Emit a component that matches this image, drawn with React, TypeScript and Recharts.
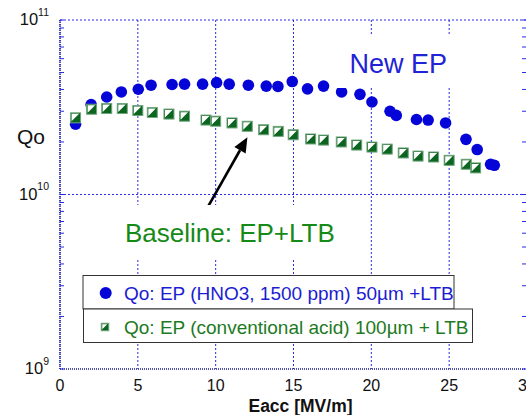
import { ScatterChart, Scatter, XAxis, YAxis, CartesianGrid, ReferenceLine } from 'recharts';

const FONT = '"Liberation Sans", Arial, Helvetica, sans-serif';
const BLUE = '#0505d8';
const GREEN_DARK = '#0b6420';
const GREEN_EDGE = '#6fa57b';
const AXIS_BLUE = '#1b1b8e';
const GRID_BLUE = '#2a2ae6';

// New EP (HNO3 added) run: Eacc [MV/m] and Qo
const newEpEacc = [1.0, 2.0, 3.0, 3.94, 5.03, 5.85, 7.2, 8.0, 9.16, 10.06, 10.87, 12.1, 13.25, 14.0, 14.92, 15.9, 16.93, 18.09, 19.27, 20.04, 21.2, 21.6, 22.9, 23.65, 24.77, 26.08, 26.8, 27.66, 27.9];
const newEpQo = [2.53e10, 3.28e10, 3.62e10, 3.87e10, 4.01e10, 4.23e10, 4.27e10, 4.29e10, 4.29e10, 4.38e10, 4.29e10, 4.23e10, 4.18e10, 4.16e10, 4.44e10, 4.03e10, 4.18e10, 3.87e10, 3.75e10, 3.39e10, 3.0e10, 2.84e10, 2.69e10, 2.67e10, 2.57e10, 2.07e10, 1.81e10, 1.49e10, 1.47e10];

// Baseline run (conventional acid)
const baseEacc = [1.0, 2.03, 3.0, 4.0, 5.0, 5.93, 7.0, 8.0, 9.38, 10.0, 11.05, 12.03, 13.08, 14.02, 14.98, 16.1, 16.93, 18.07, 19.06, 20.04, 21.02, 22.05, 23.0, 24.0, 25.0, 26.1, 26.7];
const baseQo = [2.75e10, 3.08e10, 3.11e10, 3.11e10, 3.03e10, 2.95e10, 2.89e10, 2.81e10, 2.67e10, 2.63e10, 2.57e10, 2.46e10, 2.35e10, 2.3e10, 2.2e10, 2.08e10, 2.05e10, 2.0e10, 1.92e10, 1.87e10, 1.82e10, 1.73e10, 1.66e10, 1.64e10, 1.57e10, 1.49e10, 1.42e10];

const xTicks = [0, 5, 10, 15, 20, 25, 30];
const decadeTicks = [1e9, 1e10, 1e11];
const minorTicks = [2e9, 3e9, 4e9, 5e9, 6e9, 7e9, 8e9, 9e9, 2e10, 3e10, 4e10, 5e10, 6e10, 7e10, 8e10, 9e10];
const yTicks = [...decadeTicks, ...minorTicks].sort((a, b) => a - b);

const legendNewEp = 'Qo: EP (HNO3, 1500 ppm) 50\u00b5m +LTB';
const legendBase = 'Qo: EP (conventional acid) 100\u00b5m + LTB';

// arrow pointing from the baseline note to the square series
const arrowFrom = { x: 9.5, y: 8.5e9 };
const arrowTo = { x: 12.04, y: 2.13e10 };

const newEpData = newEpEacc.map((x, i) => ({ x, y: newEpQo[i] }));
const baseData = baseEacc.map((x, i) => ({ x, y: baseQo[i] }));

const exponentOf = (v: number) => Math.round(Math.log10(v));
const isDecade = (v: number) => decadeTicks.includes(v);

function Dot(props: any) {
  const { cx, cy } = props;
  return <circle cx={cx} cy={cy} r={5.8} fill={BLUE} />;
}

function HalfSquare({ cx, cy, s }: { cx: number; cy: number; s: number }) {
  const h = s / 2;
  return (
    <g>
      <rect x={cx - h} y={cy - h} width={s} height={s} fill={GREEN_DARK} stroke={GREEN_EDGE} strokeWidth={1} />
      <polygon
        points={`${cx - h + 1},${cy - h + 1} ${cx + h - 1.5},${cy - h + 1} ${cx - h + 1},${cy + h - 1.5}`}
        fill="#ffffff"
      />
    </g>
  );
}

function Square(props: any) {
  return <HalfSquare cx={props.cx} cy={props.cy} s={10} />;
}

function LeftTick(props: any) {
  const { x, y, payload } = props;
  const v = payload.value;
  return (
    <g>
      <line x1={x} x2={x + 4} y1={y} y2={y} stroke={GRID_BLUE} strokeWidth={1} />
      {isDecade(v) && (
        <text x={x - 11} y={y + 5} textAnchor="end" fontFamily={FONT} fill="#111">
          <tspan fontSize={16.5}>10</tspan>
          <tspan fontSize={10.5} dy={-9.5}>{exponentOf(v)}</tspan>
        </text>
      )}
    </g>
  );
}

function RightTick(props: any) {
  const { x, y } = props;
  return <line x1={x - 5} x2={x} y1={y} y2={y} stroke={GRID_BLUE} strokeWidth={1} />;
}

function BottomTick(props: any) {
  const { x, y, payload } = props;
  return (
    <text x={x} y={y + 22} textAnchor="middle" fontFamily={FONT} fontSize={16} fill="#111">
      {payload.value}
    </text>
  );
}

function Arrow(props: any) {
  const { x1, y1, x2, y2 } = props;
  const dx = x2 - x1;
  const dy = y2 - y1;
  const len = Math.hypot(dx, dy);
  const ux = dx / len;
  const uy = dy / len;
  const head = 15;
  const half = 6.5;
  const bx = x2 - ux * head;
  const by = y2 - uy * head;
  return (
    <g>
      <line x1={x1} y1={y1} x2={bx} y2={by} stroke="#000" strokeWidth={2.6} />
      <polygon
        points={`${x2},${y2} ${bx - uy * half},${by + ux * half} ${bx + uy * half},${by - ux * half}`}
        fill="#000"
      />
    </g>
  );
}

export default function App() {
  return (
    <div
      style={{
        position: 'absolute',
        left: 0,
        top: 0,
        width: 526,
        height: 415,
        overflow: 'hidden',
        background: '#fff',
        fontFamily: FONT,
      }}
    >
      <ScatterChart width={540} height={415} margin={{ top: 20, right: 0, bottom: 0, left: 0 }}>
        <CartesianGrid
          stroke={GRID_BLUE}
          strokeDasharray="2 2"
          horizontalValues={[1e10, 1e11]}
          verticalValues={xTicks}
        />
        <XAxis
          type="number"
          dataKey="x"
          domain={[0, 30]}
          ticks={xTicks}
          interval={0}
          height={46}
          tickSize={0}
          tickMargin={0}
          tick={BottomTick}
          axisLine={{ stroke: AXIS_BLUE, strokeWidth: 1.5, strokeDasharray: '1 1' }}
          label={{
            value: 'Eacc [MV/m]',
            position: 'insideBottom',
            offset: 3,
            dx: 7,
            style: { fontFamily: FONT, fontSize: 17.5, fontWeight: 700, fill: '#111' },
          }}
        />
        <YAxis
          type="number"
          dataKey="y"
          scale="log"
          domain={[1e9, 1e11]}
          allowDataOverflow
          ticks={yTicks}
          interval={0}
          width={60}
          tickSize={0}
          tickMargin={0}
          tick={LeftTick}
          axisLine={{ stroke: AXIS_BLUE, strokeWidth: 1.5, strokeDasharray: '1 1' }}
          label={{
            content: () => (
              <text x={17} y={144} fontFamily={FONT} fontSize={21} fill="#111">
                Qo
              </text>
            ),
          }}
        />
        <YAxis
          yAxisId="right"
          orientation="right"
          type="number"
          dataKey="y"
          scale="log"
          domain={[1e9, 1e11]}
          allowDataOverflow
          ticks={yTicks}
          interval={0}
          width={13}
          tickSize={0}
          tickMargin={0}
          tick={RightTick}
          axisLine={false}
        />
        <ReferenceLine segment={[arrowFrom, arrowTo]} shape={Arrow} ifOverflow="visible" />
        <Scatter name={legendNewEp} data={newEpData} shape={Dot} isAnimationActive={false} />
        <Scatter name={legendBase} data={baseData} shape={Square} isAnimationActive={false} />
      </ScatterChart>

      {/* notes and legend boxes drawn on top of the plot */}
      <svg
        width={526}
        height={415}
        style={{ position: 'absolute', left: 0, top: 0, pointerEvents: 'none' }}
      >
        <rect x={335} y={35} width={123} height={53} fill="#fff" />
        <text x={349.5} y={72.5} fontFamily={FONT} fontSize={27} fill="#2222d6">
          New EP
        </text>

        <rect x={118} y={205} width={227} height={53} fill="#fff" />
        <text x={125} y={242} fontFamily={FONT} fontSize={26} fill="#168a16">
          Baseline: EP+LTB
        </text>

        <rect x={83} y={275.5} width={371} height={33.5} fill="#fff" stroke="#333" strokeWidth={1} />
        <circle cx={105.7} cy={293} r={6} fill={BLUE} />
        <text x={124} y={299.5} fontFamily={FONT} fontSize={19} fill="#1c1cd2">
          {legendNewEp}
        </text>

        <rect x={83.5} y={309} width={389} height={33.5} fill="#fff" stroke="#333" strokeWidth={1} />
        <HalfSquare cx={105} cy={327} s={7.5} />
        <text x={124} y={333.5} fontFamily={FONT} fontSize={19} fill="#1d7a23">
          {legendBase}
        </text>
      </svg>
    </div>
  );
}
